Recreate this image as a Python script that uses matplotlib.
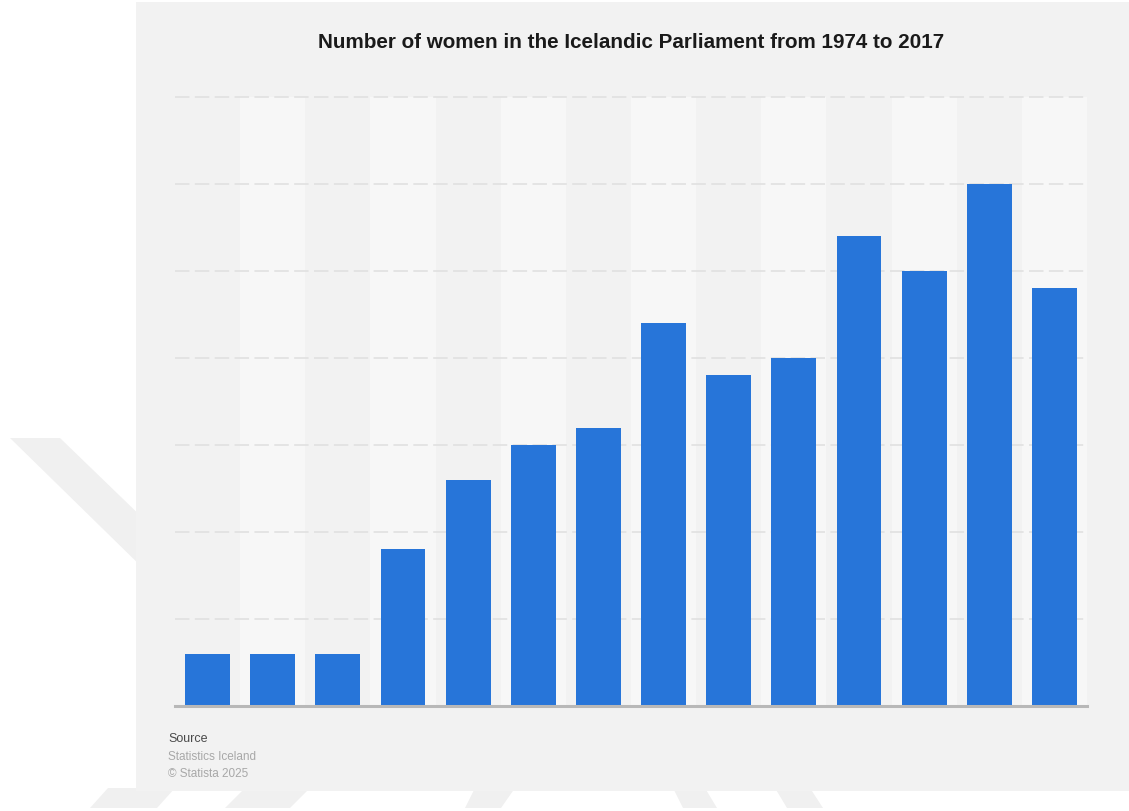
import matplotlib.pyplot as plt
from matplotlib.patches import Rectangle, Polygon

plt.rcParams['font.family'] = ['Liberation Sans', 'DejaVu Sans']

# election years 1974-2017 and women elected to the Althing
years = ['1974', '1978', '1979', '1983', '1987', '1991', '1995',
         '1999', '2003', '2007', '2009', '2013', '2016', '2017']
women = [3, 3, 3, 9, 13, 15, 16, 22, 19, 20, 27, 25, 30, 24]

title = 'Number of women in the Icelandic Parliament from 1974 to 2017'
source_lines = ['Source', 'Statistics Iceland', '\u00a9 Statista 2025']

W, H = 1129, 811
fig = plt.figure(figsize=(W / 100, H / 100), dpi=100)
fig.patch.set_facecolor('white')


def fx(px):
    return px / W


def fy(py):
    return 1 - py / H


# faint watermark shapes behind the panel
wm = '#f0f0f0'
shapes = [
    [(10, 438), (60, 438), (150, 525), (150, 575)],
    [(90, 808), (157, 808), (175, 788), (108, 788)],
    [(225, 808), (290, 808), (310, 788), (245, 788)],
    [(465, 808), (501, 808), (515, 788), (475, 788)],
    [(683, 808), (717, 808), (705, 788), (673, 788)],
    [(787, 808), (823, 808), (810, 788), (775, 788)],
]
for pts in shapes:
    fig.patches.append(Polygon([(fx(x), fy(y)) for x, y in pts], closed=True,
                               transform=fig.transFigure, facecolor=wm,
                               edgecolor='none', zorder=0))

# grey card
fig.patches.append(Rectangle((fx(136), fy(791)), 1 - fx(136), fy(2) - fy(791),
                             transform=fig.transFigure, facecolor='#f2f2f2',
                             edgecolor='none', zorder=1))

ax = fig.add_axes([fx(175), fy(706), fx(1087) - fx(175), fy(97) - fy(706)])
ax.set_facecolor('none')
ax.set_zorder(2)

x = list(range(len(years)))
# alternating column stripes
for i in x:
    if i % 2 == 1:
        ax.axvspan(i - 0.5, i + 0.5, color='#f7f7f7', zorder=0, lw=0)

for v in range(5, 40, 5):
    ax.axhline(v, color='#e2e2e2', lw=1.3, ls=(0, (8, 3)), zorder=1,
               clip_on=False)

ax.bar(x, women, width=0.69, color='#2775d9', zorder=2)
ax.axhline(0, color='#b8b8b8', lw=2.2, zorder=3, clip_on=False)

ax.set_xlim(-0.5, len(years) - 0.5)
ax.set_ylim(0, 35)
ax.set_xticks([])
ax.set_yticks([])
for s in ax.spines.values():
    s.set_visible(False)

fig.text(fx(631), fy(42), title, ha='center', va='center', fontsize=14.9,
         fontweight='bold', color='#1a1a1a', zorder=3)

fig.text(fx(168), fy(739), source_lines[0], ha='left', va='center',
         fontsize=9, color='#4a4a4a', zorder=3)
fig.text(fx(168), fy(757), source_lines[1], ha='left', va='center',
         fontsize=8.5, color='#a8a8a8', zorder=3)
fig.text(fx(168), fy(774), source_lines[2], ha='left', va='center',
         fontsize=8.5, color='#a8a8a8', zorder=3)

fig.savefig('out.png', dpi=100)
